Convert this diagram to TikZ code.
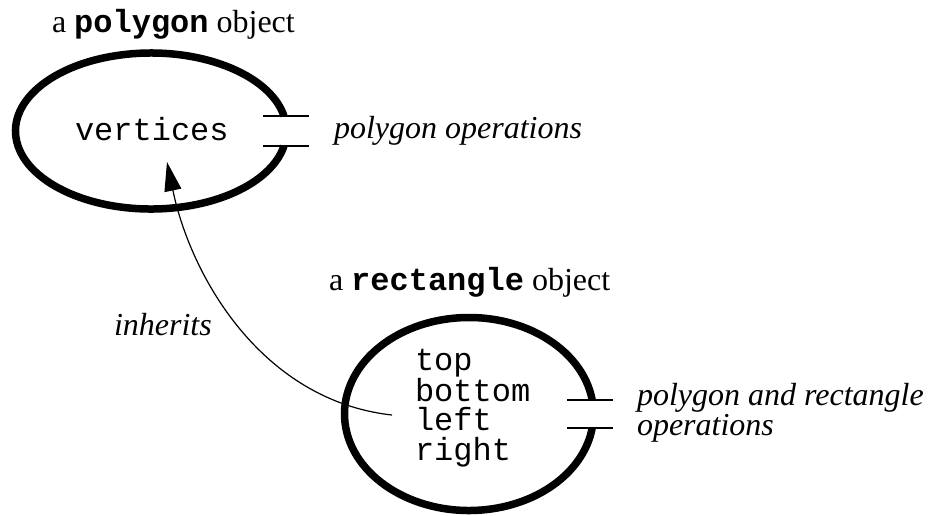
\documentclass[tikz,border=0pt]{standalone}
\usepackage{fontspec}
\setmainfont{Liberation Serif}
\setmonofont{Liberation Mono}
\usetikzlibrary{arrows.meta,calc}

\begin{document}
\begin{tikzpicture}[x=1pt,y=1pt,
  objline/.style={line width=7.5pt, line cap=butt},
  portline/.style={line width=1.5pt},
  inhline/.style={line width=1.2pt, -{Triangle[length=29pt,width=17pt]}},
  lbl/.style={inner sep=0pt, outer sep=0pt, font=\fontsize{32}{36}\selectfont},
  opslbl/.style={lbl, font=\fontsize{32}{27}\selectfont\itshape, align=left},
  fieldlbl/.style={lbl, font=\fontsize{32}{29.3}\selectfont\ttfamily, align=left}
]
\useasboundingbox (0,0) rectangle (930,-515);

% centres of the two object outlines
\coordinate (polyC) at (151,-131);
\coordinate (rectC) at (469,-414);

% polygon object: thick outline, open between its two interface bars
\draw[objline] ($(polyC)+(11.09:135.5 and 78)$)
  arc[start angle=11.09, end angle=348.91, x radius=135.5pt, y radius=78pt];
\draw[portline] (263,-116) -- (309,-116);
\draw[portline] (263,-146) -- (309,-146);

% rectangle object: thick outline, open between its two interface bars
\draw[objline] ($(rectC)+(8.34:124.5 and 96.5)$)
  arc[start angle=8.34, end angle=351.66, x radius=124.5pt, y radius=96.5pt];
\draw[portline] (567,-400) -- (613,-400);
\draw[portline] (567,-428) -- (613,-428);

% titles
\node[lbl, anchor=base west] (polyTitle) at (52,-32)
  {a \textbf{\texttt{polygon}} object};
\node[lbl, anchor=base west] (rectTitle) at (329,-290)
  {a \textbf{\texttt{rectangle}} object};

% contents of the objects (multi-line nodes sit on their last baseline)
\node[lbl, font=\fontsize{32}{36}\selectfont\ttfamily, anchor=base west] (vertices) at (75,-140) {vertices};
\node[fieldlbl, anchor=base west] (fields) at (415,-460) {top\\bottom\\left\\right};

% operation labels
\node[lbl, font=\fontsize{32}{36}\selectfont\itshape, anchor=base west] (polyOps) at (334,-138) {polygon operations};
\node[opslbl, anchor=base west] (rectOps) at (637,-435) {polygon and rectangle\\operations};

% inheritance link
\coordinate (inhFrom) at (392,-415);
\coordinate (inhTo) at (167,-162);
\draw[inhline] (inhFrom) .. controls (262.6,-400.7) and (191.1,-277.8) .. (inhTo);
\node[lbl, font=\fontsize{32}{36}\selectfont\itshape, anchor=base west] (inherits) at (114,-335) {inherits};
\end{tikzpicture}
\end{document}
